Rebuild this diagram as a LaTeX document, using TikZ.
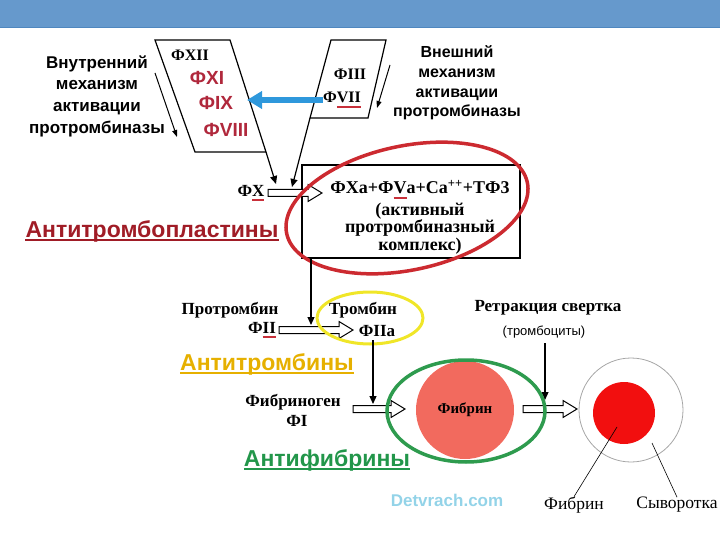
\documentclass[tikz,border=0pt]{standalone}
\usepackage{fontspec}
\setmainfont{Liberation Serif}
\setsansfont{Liberation Sans}
\usetikzlibrary{arrows.meta,calc}

\definecolor{bandblue}{HTML}{6699CC}
\definecolor{bandline}{HTML}{4F87BF}
\definecolor{factred}{HTML}{B0283C}
\definecolor{ulred}{HTML}{C8303A}
\definecolor{antired}{HTML}{A01C26}
\definecolor{antiyellow}{HTML}{E6B000}
\definecolor{antigreen}{HTML}{22964A}
\definecolor{ringred}{HTML}{CC2A30}
\definecolor{ringyellow}{HTML}{F0E628}
\definecolor{ringgreen}{HTML}{2E9B4E}
\definecolor{fibrinfill}{HTML}{F26A5E}
\definecolor{clotred}{HTML}{F20F0F}
\definecolor{arrowblue}{HTML}{2E98DC}
\definecolor{wmcyan}{HTML}{93D3E8}

% short red bar under a part of a label
\newcommand\redul[1]{\setbox0\hbox{#1}\rlap{\color{ulred}\rule[-5pt]{\wd0}{2pt}}\box0}
% open block arrow between two named points on one level
\newcommand\hollowarrow[2]{%
  \draw[line width=1pt, fill=white]
    ($(#1)+(0,-3.5)$) -- ($(#2)+(-14,-3.5)$) -- ($(#2)+(-14,-8.5)$) -- (#2)
    -- ($(#2)+(-14,8.5)$) -- ($(#2)+(-14,3.5)$) -- ($(#1)+(0,3.5)$) -- cycle;}

\begin{document}
\begin{tikzpicture}[x=1pt, y=-1pt,
  lbl/.style={inner sep=0pt, align=center},
  head/.style={lbl, font=\sffamily\bfseries\fontsize{17}{21.7}\selectfont},
  factor/.style={lbl, text=factred, font=\sffamily\bfseries\fontsize{19}{20}\selectfont},
  serifb/.style={lbl, font=\bfseries\fontsize{17}{18}\selectfont},
  serifr/.style={lbl, font=\fontsize{17.5}{18}\selectfont},
  roman/.style={serifb, font=\bfseries\fontsize{16}{17}\selectfont},
  anti/.style={lbl, font=\sffamily\bfseries\fontsize{23}{25}\selectfont},
  edge/.style={line width=1.2pt},
  arr/.style={line width=1.2pt, -{Triangle[length=8pt,width=7pt]}},
  thinarr/.style={line width=1pt, -{Triangle[length=7pt,width=5pt]}},
  bluearrow/.style={line width=5.5pt, arrowblue, -{Triangle[length=15pt,width=17pt]}},
  ring/.style={line width=3.5pt},
]
\useasboundingbox (0,0) rectangle (720,540);
\fill[bandblue] (0,0) rectangle (720,28);
\draw[bandline, line width=1pt] (0,28) -- (720,28);

% activation pathways
\node[head] (intern) at (97,96) {Внутренний\\механизм\\активации\\протромбиназы};
\node[head, font=\sffamily\bfseries\fontsize{16}{19.7}\selectfont] (extern) at (457,83)
  {Внешний\\механизм\\активации\\протромбиназы};
\coordinate (ina) at (155,73);
\coordinate (inb) at (177,137);
\draw[thinarr] (ina) -- (inb);
\coordinate (exa) at (390,65);
\coordinate (exb) at (377,108);
\draw[thinarr] (exa) -- (exb);

\coordinate (intl) at (155,40);
\coordinate (intr) at (230,40);
\coordinate (inbr) at (266,152);
\coordinate (inbl) at (195,152);
\draw[edge] (intl) -- (intr) -- (inbr) -- (inbl) -- cycle;
\coordinate (extl) at (331,40);
\coordinate (extr) at (386,40);
\coordinate (exbr) at (368,118);
\coordinate (exbl) at (310,118);
\draw[edge] (extl) -- (extr) -- (exbr) -- (exbl) -- cycle;

\node[roman] (fxii) at (190,55) {ФXII};
\node[factor] (fxi) at (207,78) {ФXI};
\node[factor] (fix) at (216,103) {ФIX};
\node[factor] (fviii) at (226,130) {ФVIII};
\node[roman] (fiii) at (350,74) {ФIII};
\node[roman] (fvii) at (342,100) {Ф\redul{VII}};
\coordinate (bluetip) at (247,101);
\draw[bluearrow] (fvii.west) -- (fvii.west -| bluetip);

% prothrombinase complex
\node[serifb] (fx) at (251,193) {Ф\redul{X}};
\node[draw, line width=1.2pt, minimum width=218pt, minimum height=93pt] (complex) at (411,211.5) {};
\node[serifb, font=\bfseries\fontsize{18}{14.5}\selectfont] (ctext) at (420,217)
  {ФXa+Ф\redul{V}a+Ca\textsuperscript{++}+TФ3\\[3pt](активный\\протромбиназный\\комплекс)};
\coordinate (fxstart) at (268,193);
\coordinate (fxend) at (322,193);
\hollowarrow{fxstart}{fxend}
\coordinate (tipa) at (276,184);
\coordinate (tipb) at (292,187);
\draw[arr] (inbr) -- (tipa);
\draw[arr] (exbl) -- (tipb);
\node[anti, text=antired] (atp) at (152,231) {Антитромбопластины};
\draw[antired, line width=2pt] ([yshift=-3pt]atp.base west) -- ([yshift=-3pt]atp.base east);
\draw[ringred, ring] (407,208) ellipse [x radius=123, y radius=62, rotate=12];

% thrombin
\node[serifb] (prot) at (230,310) {Протромбин};
\node[serifb] (fii) at (262,330) {Ф\redul{II}};
\node[serifb] (thr) at (363,310) {Тромбин};
\node[serifb] (fiia) at (377,331) {ФIIa};
\coordinate (iistart) at (279,330);
\coordinate (iiend) at (353,330);
\hollowarrow{iistart}{iiend}
\coordinate (iitip) at (311,325);
\draw[arr] (complex.south -| iitip) -- (iitip);
\draw[ringyellow, line width=3pt] (370,318) ellipse [x radius=53, y radius=26];
\node[anti, text=antiyellow] (atr) at (267,364) {Антитромбины};
\draw[antiyellow, line width=2pt] ([yshift=-3pt]atr.base west) -- ([yshift=-3pt]atr.base east);

% fibrin
\node[serifb] (fbg) at (293,402) {Фибриноген};
\node[serifb] (fi) at (297,421) {ФI};
\coordinate (istart) at (353,409);
\coordinate (iend) at (405,409);
\hollowarrow{istart}{iend}
\coordinate (itop) at (373,340);
\coordinate (itip) at (373,404);
\draw[arr] (itop) -- (itip);
\node[circle, fill=fibrinfill, minimum size=98pt, inner sep=0pt,
  font=\bfseries\fontsize{15}{16}\selectfont] (fibrin) at (465,410) {Фибрин};
\node[anti, text=antigreen] (afb) at (327,460) {Антифибрины};
\draw[antigreen, line width=2pt] ([yshift=-3pt]afb.base west) -- ([yshift=-3pt]afb.base east);

% clot retraction
\node[serifb] (retr) at (548,308) {Ретракция свертка};
\node[lbl, font=\sffamily\fontsize{13}{14}\selectfont] (plt) at (544,332) {(тромбоциты)};
\coordinate (rtop) at (545,343);
\coordinate (rtip) at (545,400);
\coordinate (rstart) at (523,409);
\coordinate (rend) at (577,409);
\hollowarrow{rstart}{rend}
\draw[arr] (rtop) -- (rtip);
\draw[ringgreen, ring] (466,411) ellipse [x radius=79, y radius=51];

\node[circle, draw=gray!70, line width=0.8pt, minimum size=104pt, inner sep=0pt] (clot) at (631,410) {};
\node[circle, fill=clotred, minimum size=62pt, inner sep=0pt] (core) at (624,413) {};
\node[serifr] (lfib) at (574,505) {Фибрин};
\node[serifr] (lser) at (677,505) {Сыворотка};
\coordinate (pfib) at (617,427);
\coordinate (pser) at (652,443);
\draw[line width=0.6pt] (pfib) -- (lfib.north);
\draw[line width=0.6pt] (pser) -- (lser.north);

\node[lbl, text=wmcyan, font=\sffamily\bfseries\fontsize{17}{18}\selectfont] (wm) at (447,500) {Detvrach.com};
\end{tikzpicture}
\end{document}
